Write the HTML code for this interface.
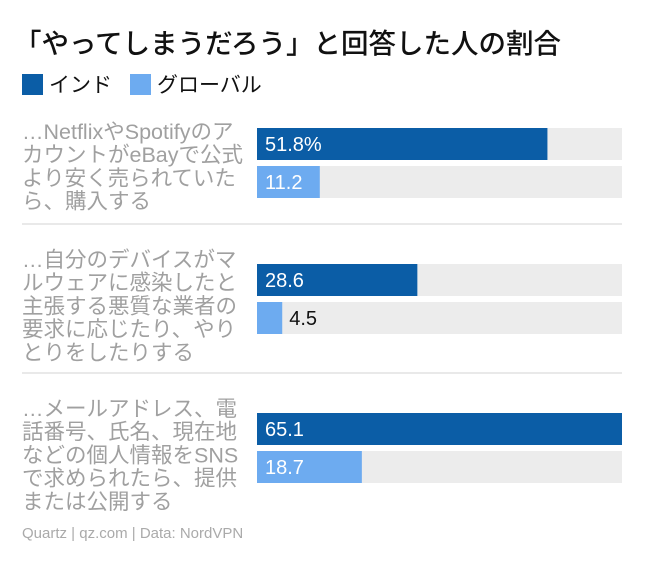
<!DOCTYPE html>
<html><head><meta charset="utf-8"><style>
body{margin:0;background:#fff;font-family:"Liberation Sans","Noto Sans CJK JP",sans-serif;}
#root{position:relative;width:645px;height:565px;overflow:hidden;}
.t{position:absolute;white-space:nowrap;}
</style></head><body>
<div id="root">
<div class="t" style="left:14px;top:21px;font-size:27.5px;color:#111;font-weight:500;">「やってしまうだろう」と回答した人の割合</div>
<div class="t" style="left:22px;top:69px;font-size:21px;color:#111;"><span style="display:inline-block;width:21px;height:21px;background:#0b5da6;vertical-align:-3px;margin-right:6px;"></span>インド</div>
<div class="t" style="left:130px;top:69px;font-size:21px;color:#111;"><span style="display:inline-block;width:21px;height:21px;background:#6dabf0;vertical-align:-3px;margin-right:6px;"></span>グローバル</div>
<svg id="svg" width="645" height="565" style="position:absolute;left:0;top:0"></svg>
<div class="t" style="left:22px;top:525px;font-size:15px;color:#aaa;">Quartz | qz.com | Data: NordVPN</div>
</div>
<script>
const categories=[["…NetflixやSpotifyのア","カウントがeBayで公式","より安く売られていた","ら、購入する"],["…自分のデバイスがマ","ルウェアに感染したと","主張する悪質な業者の","要求に応じたり、やり","とりをしたりする"],["…メールアドレス、電","話番号、氏名、現在地","などの個人情報をSNS","で求められたら、提供","または公開する"]];
const indiaValues=[51.8,28.6,65.1];
const globalValues=[11.2,4.5,18.7];
const valueLabels=[["51.8%","11.2"],["28.6","4.5"],["65.1","18.7"]];
const svg=document.getElementById('svg');const NS='http://www.w3.org/2000/svg';
const x0=257,W=365,maxV=65.1;
const xs=v=>v/maxV*W;
const groupTop=[128,264,413],labelTop=[120,248,397],barH=32,gap=38;
function mk(tag,attrs){const e=document.createElementNS(NS,tag);for(const k in attrs)e.setAttribute(k,attrs[k]);svg.appendChild(e);return e;}
[224,373].forEach(y=>{const l=mk('line',{x1:22,x2:622,y1:y,y2:y,stroke:'#e2e2e2','stroke-width':1.5});

});
categories.forEach((lines,i)=>{
 lines.forEach((s,j)=>{const t=mk('text',{x:22,y:labelTop[i]+19+j*23.2,'font-size':21.5,fill:'#a0a0a0','font-family':'"Liberation Sans","Noto Sans CJK JP",sans-serif'});t.textContent=s;
 
 });
 [[indiaValues[i],'#0b5da6'],[globalValues[i],'#6dabf0']].forEach(([v,c],k)=>{
  const y=groupTop[i]+k*gap;
  const bg=mk('rect',{x:x0,y:y,width:W,height:barH,fill:'#ececec'});
  
  
  const r=mk('rect',{x:x0,y:y,width:xs(v),height:barH,fill:c});
  
  
  const inside=xs(v)>45;
  const t=mk('text',{x:inside?x0+8:x0+xs(v)+7,y:y+23,'font-size':20,fill:inside?'#fff':'#111','font-family':'"Liberation Sans",sans-serif'});
  t.textContent=valueLabels[i][k];
  
  
 });
});
</script>
</body></html>
